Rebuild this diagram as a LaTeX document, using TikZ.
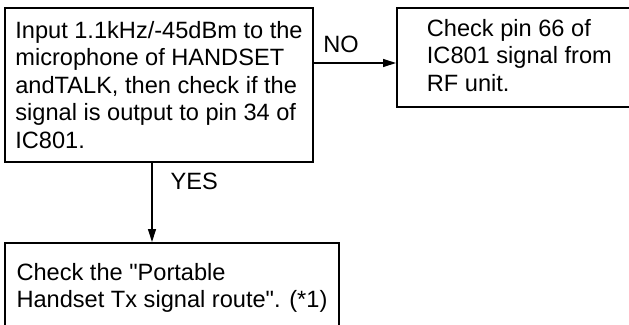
\documentclass[tikz,border=0pt]{standalone}
\usepackage{fontspec}
\setmainfont{Liberation Sans}
\usetikzlibrary{arrows.meta}
\begin{document}
\begin{tikzpicture}[
            x=1pt, y=-1pt,
            every node/.style={font=\fontsize{23.6}{27.5}\selectfont},
            stepbox/.style={rectangle, draw, line width=1.8pt, align=left, anchor=north west, inner sep=0pt},
            flow/.style={line width=1.2pt, -{Triangle[length=13pt,width=8pt]}},
            answer/.style={inner sep=0pt}
        ]
        \useasboundingbox (0,0) rectangle (629,324);
        \clip (0,0) rectangle (629,324);

        \node[stepbox, minimum width=308.2pt, minimum height=154.2pt] (input) at (4,7)
            {Input 1.1kHz/-45dBm to the\\
             microphone of HANDSET\\
             andTALK, then check if the\\
             signal is output to pin 34 of\\
             IC801.};
        \node[stepbox, inner xsep=30pt, minimum height=99.2pt] (rfpin) at (396,7)
            {Check pin 66 of\\
             IC801 signal from\\
             RF unit.\vphantom{g}};
        \node[stepbox, minimum width=334.2pt, minimum height=90.2pt] (route) at (4,242)
            {Check the \textquotedbl Portable\\
             Handset Tx signal route\textquotedbl. (*1)};

        \draw[flow] ([yshift=-5.5pt]input.east |- rfpin.west) -- ([yshift=-5.5pt]rfpin.west)
            node[answer, pos=0.33, above=10pt] (no) {NO};
        \draw[flow] ([xshift=-7pt]input.south) -- ([xshift=-7pt]input.south |- route.north)
            node[answer, pos=0.34, anchor=base west, xshift=18pt] (yes) {YES};

    \end{tikzpicture}
\end{document}
